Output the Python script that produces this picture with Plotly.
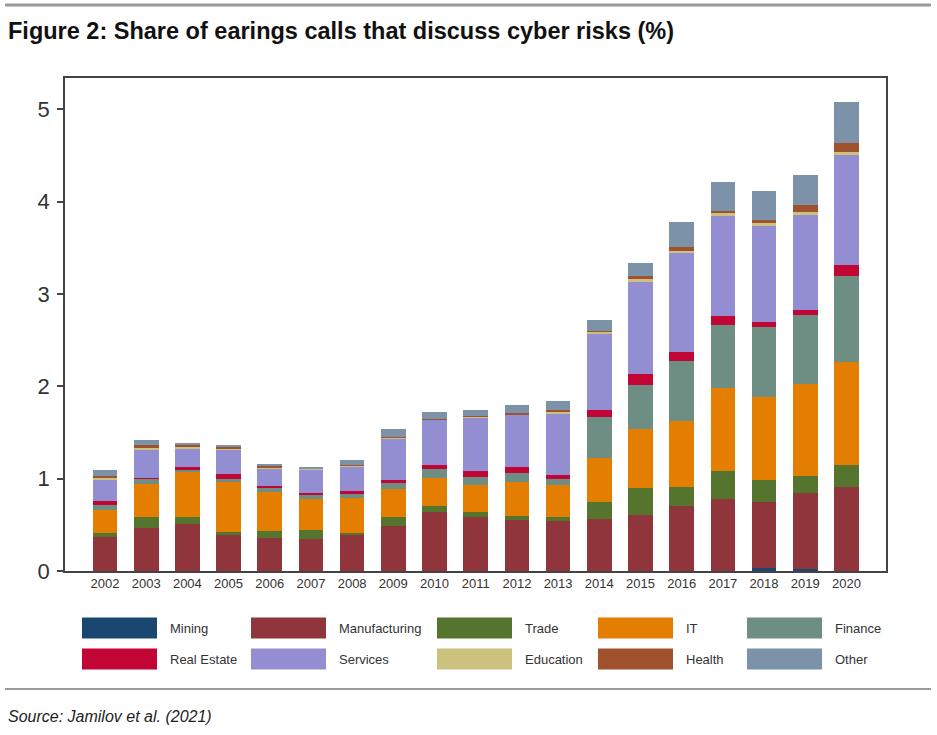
import plotly.graph_objects as go

years = list(range(2002, 2021))
series_names = ["Mining", "Manufacturing", "Trade", "IT", "Finance",
                "Real Estate", "Services", "Education", "Health", "Other"]
colors = ["#1a476f", "#90353b", "#55752f", "#e37e00", "#6e8e84",
          "#c10534", "#938dd2", "#cac27e", "#a0522d", "#7b92a8"]

mining = [0, 0, 0, 0, 0, 0, 0, 0, 0, 0, 0, 0, 0, 0, 0, 0, 0.03, 0.02, 0]
manufacturing = [0.37, 0.47, 0.51, 0.39, 0.36, 0.35, 0.39, 0.49, 0.64, 0.59,
                 0.55, 0.54, 0.56, 0.61, 0.70, 0.78, 0.72, 0.83, 0.91]
trade = [0.04, 0.11, 0.07, 0.03, 0.07, 0.09, 0.02, 0.09, 0.06, 0.05,
         0.05, 0.04, 0.19, 0.29, 0.21, 0.30, 0.24, 0.18, 0.24]
it = [0.25, 0.36, 0.50, 0.54, 0.43, 0.34, 0.38, 0.31, 0.31, 0.29,
      0.36, 0.35, 0.47, 0.64, 0.71, 0.90, 0.90, 1.00, 1.11]
finance = [0.05, 0.06, 0.01, 0.04, 0.04, 0.04, 0.04, 0.06, 0.09, 0.09,
           0.10, 0.07, 0.45, 0.48, 0.66, 0.69, 0.75, 0.74, 0.93]
real_estate = [0.05, 0.01, 0.04, 0.05, 0.02, 0.03, 0.04, 0.04, 0.05, 0.06,
               0.07, 0.04, 0.07, 0.11, 0.09, 0.09, 0.06, 0.06, 0.12]
services = [0.23, 0.31, 0.20, 0.27, 0.19, 0.25, 0.26, 0.45, 0.49, 0.58,
            0.56, 0.67, 0.83, 1.01, 1.08, 1.09, 1.04, 1.03, 1.20]
education = [0.02, 0.02, 0.02, 0.01, 0.01, 0.005, 0.01, 0.005, 0.005, 0.01,
             0.01, 0.02, 0.02, 0.02, 0.02, 0.03, 0.03, 0.03, 0.03]
health = [0.02, 0.02, 0.01, 0.01, 0.02, 0.005, 0.01, 0.005, 0.005, 0.01,
          0.01, 0.01, 0.01, 0.04, 0.04, 0.02, 0.03, 0.07, 0.10]
other = [0.06, 0.06, 0.03, 0.03, 0.01, 0.02, 0.05, 0.09, 0.07, 0.06,
         0.09, 0.10, 0.12, 0.14, 0.27, 0.31, 0.32, 0.33, 0.44]

series_values = [mining, manufacturing, trade, it, finance,
                 real_estate, services, education, health, other]

y_tick_vals = [0, 1, 2, 3, 4, 5]
y_tick_text = ["0", "1", "2", "3", "4", "5"]

W, H = 937, 735
L, R, T, B = 65, 51, 78, 164
pw, ph = W - L - R, H - T - B

fig = go.Figure()
for name, vals, col in zip(series_names, series_values, colors):
    fig.add_trace(go.Bar(x=years, y=vals, name=name, marker_color=col,
                         marker_line_width=0, width=0.6, showlegend=False))

fig.update_layout(
    width=W, height=H, barmode="stack",
    margin=dict(l=L, r=R, t=T, b=B),
    paper_bgcolor="white", plot_bgcolor="white",
    font=dict(family="Liberation Sans, Arial, sans-serif", color="#333333"),
    xaxis=dict(range=[2001.03, 2020.96], tickmode="array", tickvals=years,
               ticktext=[str(y) for y in years], tickfont=dict(size=13, color="#333333"),
               showgrid=False, zeroline=False, showline=True, linecolor="#444444",
               linewidth=1.5, mirror=True, ticks="", ticklen=0),
    yaxis=dict(range=[0, 5.34], tickmode="array", tickvals=y_tick_vals,
               ticktext=y_tick_text, tickfont=dict(size=22, color="#333333"),
               showgrid=False, zeroline=False, showline=True, linecolor="#444444",
               linewidth=1.5, mirror=True, ticks="outside", ticklen=6,
               tickcolor="#444444", tickwidth=1.5, ticklabelstandoff=3),
)

def px_x(px):
    return (px - L) / pw

def px_y(py):
    return (H - B - py) / ph

shapes = []
annotations = []
# legend (manual)
col_swatch_x = [82, 251, 437, 598, 747]
row_y = [628, 659]
sw_w, sw_h = 75, 21
for i, (name, col) in enumerate(zip(series_names, colors)):
    r, c = divmod(i, 5)
    x0 = col_swatch_x[c]
    yc = row_y[r]
    shapes.append(dict(type="rect", xref="paper", yref="paper",
                       x0=px_x(x0), x1=px_x(x0 + sw_w),
                       y0=px_y(yc + sw_h / 2), y1=px_y(yc - sw_h / 2),
                       fillcolor=col, line=dict(width=0)))
    annotations.append(dict(xref="paper", yref="paper", x=px_x(x0 + sw_w + 11),
                            y=px_y(yc), text=name, showarrow=False,
                            xanchor="left", yanchor="middle",
                            font=dict(size=13, color="#333333")))

# decorative rules
shapes.append(dict(type="line", xref="paper", yref="paper",
                   x0=px_x(5), x1=px_x(931), y0=px_y(5), y1=px_y(5),
                   line=dict(color="#9a9a9a", width=3)))
shapes.append(dict(type="line", xref="paper", yref="paper",
                   x0=px_x(5), x1=px_x(931), y0=px_y(689), y1=px_y(689),
                   line=dict(color="#9a9a9a", width=2)))

annotations.append(dict(xref="paper", yref="paper", x=px_x(6), y=px_y(31),
                        text="<b>Figure 2: Share of earings calls that discuss cyber risks (%)</b>",
                        showarrow=False, xanchor="left", yanchor="middle",
                        font=dict(size=23.5, color="#111111",
                                  family="Liberation Sans, Arial, sans-serif")))
annotations.append(dict(xref="paper", yref="paper", x=px_x(6), y=px_y(716),
                        text="<i>Source: Jamilov et al. (2021)</i>",
                        showarrow=False, xanchor="left", yanchor="middle",
                        font=dict(size=16, color="#222222")))

fig.update_layout(shapes=shapes, annotations=annotations)
fig.write_html("out.html", config={"displayModeBar": False},
               post_script="document.body.style.margin='0';")
